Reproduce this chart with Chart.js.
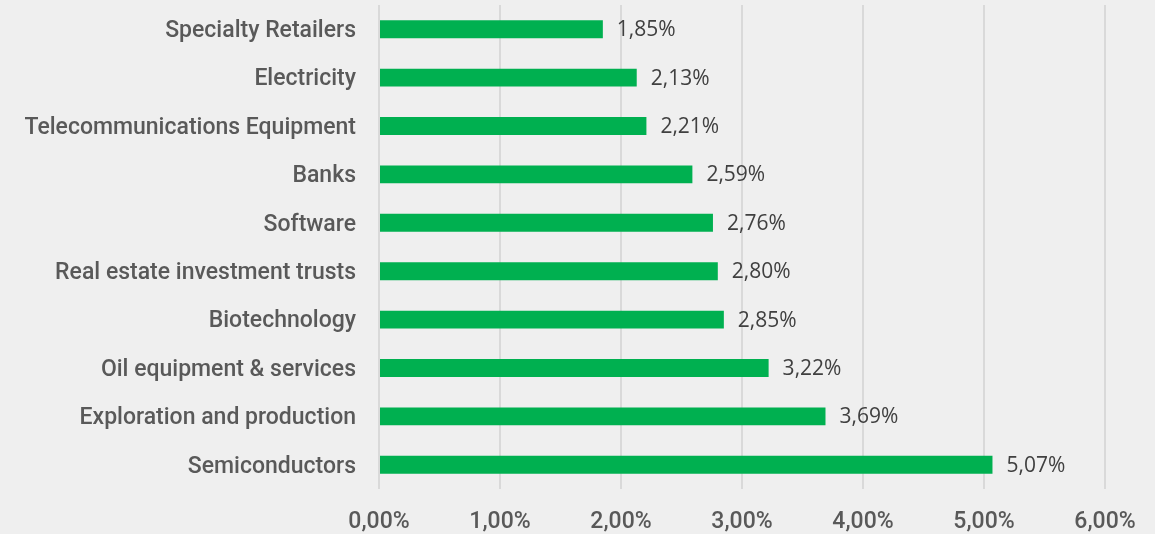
<!DOCTYPE html>
<html>
<head>
<meta charset="utf-8">
<script src="https://cdn.jsdelivr.net/npm/chart.js@4.4.0/dist/chart.umd.min.js"></script>
<style>
  html, body { margin: 0; padding: 0; background: #efefef; }
  #wrap { width: 1155px; height: 534px; }
</style>
</head>
<body>
<div id="wrap"><canvas id="myChart" width="1155" height="534"></canvas></div>
<script>
// sectors, top to bottom as in the picture
let sectors = [
    'Specialty Retailers',
    'Electricity',
    'Telecommunications Equipment',
    'Banks',
    'Software',
    'Real estate investment trusts',
    'Biotechnology',
    'Oil equipment & services',
    'Exploration and production',
    'Semiconductors'
];
let weights = [1.85, 2.13, 2.21, 2.59, 2.76, 2.80, 2.85, 3.22, 3.69, 5.07];
let tickValues = [0, 1, 2, 3, 4, 5, 6];

function pct(v) {
    return v.toFixed(2).replace('.', ',') + '%';
}

// draws the value next to each bar
const valueLabels = {
    id: 'valueLabels',
    afterDatasetsDraw(chart) {
        const ctx = chart.ctx;
        const meta = chart.getDatasetMeta(0);
        ctx.save();
        ctx.font = '21px "Open Sans", sans-serif';
        ctx.fillStyle = '#404040';
        ctx.textAlign = 'left';
        ctx.textBaseline = 'middle';
        meta.data.forEach((bar, i) => {
            ctx.fillText(pct(weights[i]), bar.x + 14, bar.y + 1);
        });
        ctx.restore();
    }
};

Chart.defaults.font.family = 'Roboto, sans-serif';
Chart.defaults.color = '#595959';

const ctx = document.getElementById('myChart').getContext('2d');
const myChart = new Chart(ctx, {
    type: 'bar',
    data: {
        labels: sectors,
        datasets: [{
            data: weights,
            backgroundColor: '#00b050',
            borderWidth: 0,
            barPercentage: 0.37,
            categoryPercentage: 1.0
        }]
    },
    options: {
        indexAxis: 'y',
        responsive: false,
        animation: false,
        layout: { padding: { top: 5, right: 50, left: 0, bottom: 0 } },
        plugins: {
            legend: { display: false },
            tooltip: { enabled: false }
        },
        scales: {
            x: {
                min: 0,
                max: 6,
                afterBuildTicks(scale) {
                    scale.ticks = tickValues.map(v => ({ value: v }));
                },
                afterFit(scale) {
                    scale.height = 45;
                    scale.paddingLeft = 0;
                    scale.paddingRight = 0;
                },
                grid: { color: '#d9d9d9', lineWidth: 2, drawTicks: false },
                border: { display: false },
                ticks: {
                    padding: 19,
                    font: { size: 23, weight: '500' },
                    callback: v => pct(v)
                }
            },
            y: {
                afterFit(scale) {
                    scale.width = 379;
                    scale.paddingTop = 0;
                    scale.paddingBottom = 0;
                },
                grid: { display: false, drawTicks: false },
                border: { display: false },
                ticks: {
                    padding: 23,
                    labelOffset: 2,
                    font: { size: 23, weight: '500' }
                }
            }
        }
    },
    plugins: [valueLabels]
});
</script>
</body>
</html>
